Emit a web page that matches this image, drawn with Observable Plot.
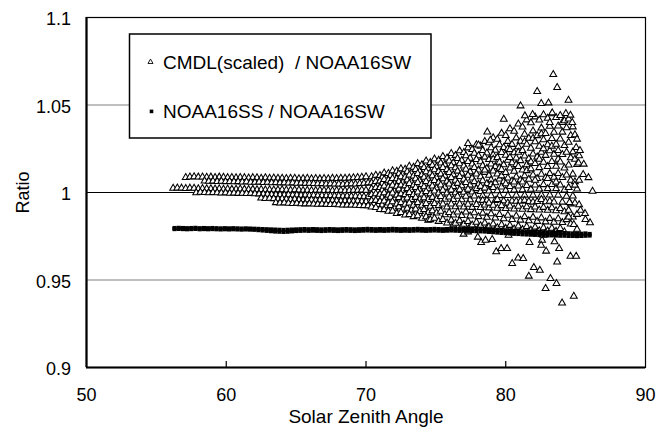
<!DOCTYPE html>
<html><head><meta charset="utf-8">
<script src="https://cdn.jsdelivr.net/npm/d3@7"></script>
<script src="https://cdn.jsdelivr.net/npm/@observablehq/plot@0.6"></script>
<style>
body{margin:0;background:#fff;}
svg text{font-family:"Liberation Sans",Arial,Helvetica,sans-serif;}
g[aria-label="x-axis label"] text{font-size:19px;}
</style></head><body><div id="chart"></div><script>
// ---- axis ticks / labels ----
const xTicks = [50, 60, 70, 80, 90];
const xInnerTicks = [60, 70, 80];
const yTicks = [0.9, 0.95, 1, 1.05, 1.1];
const yTickLabels = ["0.9", "0.95", "1", "1.05", "1.1"];
const gridGrey = [0.95, 1.05];
const gridDark = [1];
const legendLabels = ["CMDL(scaled)  / NOAA16SW", "NOAA16SS / NOAA16SW"];

// ---- CMDL(scaled)/NOAA16SW : left bands (56-70 deg) ----
const leftXa = [56.2,56.5,56.8,57.1,57.4,57.7,58.0,58.3,58.6,58.9,59.2,59.5,59.8,60.1,60.4,60.7,61.0,61.3,61.6,61.9,62.2,62.5,62.8,63.1,63.4,63.7,64.0,64.3,64.6,64.9,65.2,65.5,65.8,66.1,66.4,66.7,67.0,67.3,67.6,67.9,68.2,68.5,68.8,69.1,69.4,69.7,70.0];
const leftXb = [56.35,56.65,56.95,57.25,57.55,57.85,58.15,58.45,58.75,59.05,59.35,59.65,59.95,60.25,60.55,60.85,61.15,61.45,61.75,62.05,62.35,62.65,62.95,63.25,63.55,63.85,64.15,64.45,64.75,65.05,65.35,65.65,65.95,66.25,66.55,66.85,67.15,67.45,67.75,68.05,68.35,68.65,68.95,69.25,69.55,69.85,70.15];
const bandTop = [null,null,null,1.0086,1.0089,1.0090,1.0088,1.0089,1.0087,1.0088,1.0086,1.0088,1.0087,1.0085,1.0086,1.0084,1.0086,1.0085,1.0083,1.0085,1.0084,1.0082,1.0084,1.0082,1.0083,1.0081,1.0082,1.0080,1.0082,1.0081,1.0079,1.0080,1.0081,1.0079,1.0080,1.0078,1.0080,1.0079,1.0081,1.0080,1.0082,1.0081,1.0083,1.0084,1.0086,1.0087,1.0090];
const bandUpper = [null,null,null,null,null,null,null,1.0066,1.0064,1.0065,1.0063,1.0064,1.0062,1.0063,1.0061,1.0062,1.0060,1.0061,1.0059,1.0058,1.0060,1.0057,1.0058,1.0056,1.0057,1.0055,1.0056,1.0054,1.0055,1.0053,1.0054,1.0052,1.0053,1.0051,1.0050,1.0051,1.0049,1.0050,1.0048,1.0049,1.0047,1.0048,1.0050,1.0049,1.0051,1.0053,1.0055];
const bandMid = [1.0024,1.0026,1.0025,1.0023,1.0025,1.0024,1.0022,1.0023,1.0021,1.0022,1.0020,1.0021,1.0019,1.0020,1.0018,1.0019,1.0020,1.0018,1.0017,1.0018,1.0016,1.0017,1.0015,1.0016,1.0014,1.0015,1.0016,1.0014,1.0013,1.0015,1.0014,1.0012,1.0013,1.0011,1.0012,1.0013,1.0011,1.0012,1.0010,1.0011,1.0012,1.0010,1.0011,1.0013,1.0012,1.0014,1.0013];
const bandOne = [null,null,null,null,null,0.9999,1.0001,1.0000,0.9998,1.0000,0.9999,0.9997,0.9998,0.9996,0.9997,0.9995,0.9996,0.9994,0.9995,0.9993,0.9992,0.9991,0.9990,0.9989,0.9988,0.9987,0.9986,0.9987,0.9985,0.9986,0.9984,0.9985,0.9983,0.9984,0.9982,0.9983,0.9981,0.9982,0.9980,0.9981,0.9979,0.9980,0.9978,0.9979,0.9977,0.9976,0.9975];
const bandLow = [null,null,null,null,null,null,null,null,null,null,null,null,null,null,null,null,null,null,null,null,null,0.9968,0.9966,0.9967,0.9965,0.9963,0.9964,0.9962,0.9960,0.9961,0.9959,0.9958,0.9959,0.9957,0.9956,0.9957,0.9955,0.9954,0.9955,0.9953,0.9952,0.9953,0.9951,0.9950,0.9951,0.9949,0.9948];
const bandBottom = [null,null,null,null,null,null,null,null,null,null,null,null,null,null,null,null,null,null,null,null,null,null,null,null,0.9942,0.9940,0.9941,0.9939,0.9937,0.9938,0.9936,0.9935,0.9936,0.9934,0.9933,0.9934,0.9932,0.9931,0.9932,0.9930,0.9929,0.9928,0.9929,0.9927,0.9926,0.9925,0.9924];

// ---- CMDL(scaled)/NOAA16SW : fan (70-85 deg), one list of ratios per angle ----
const fanXa = [70.4,70.7,71.0,71.3,71.6,71.9,72.2,72.5,72.8,73.1,73.4,73.7,74.0,74.3,74.6,74.9,75.2,75.5,75.8,76.1,76.4,76.7,77.0,77.3,77.6,77.9,78.2,78.5,78.8,79.1,79.4,79.7,80.0,80.3,80.6,80.9,81.2,81.5,81.8,82.1,82.4,82.7,83.0,83.3,83.6,83.9,84.2,84.5,84.8,85.1];
const fanXb = [70.55,70.85,71.15,71.45,71.75,72.05,72.35,72.65,72.95,73.25,73.55,73.85,74.15,74.45,74.75,75.05,75.35,75.65,75.95,76.25,76.55,76.85,77.15,77.45,77.75,78.05,78.35,78.65,78.95,79.25,79.55,79.85,80.15,80.45,80.75,81.05,81.35,81.65,81.95,82.25,82.55,82.85,83.15,83.45,83.75,84.05,84.35,84.65,84.95,85.25];
const fanRatios = [
[1.0090,1.0073,1.0055,1.0041,1.0021,1.0007,0.9988,0.9972,0.9953,0.9937,0.9917],
[1.0099,1.0077,1.0063,1.0043,1.0028,1.0009,0.9993,0.9973,0.9955,0.9930,0.9914],
[1.0097,1.0086,1.0065,1.0051,1.0028,1.0013,0.9990,0.9972,0.9949,0.9929,0.9903],
[1.0112,1.0084,1.0074,1.0044,1.0037,1.0005,0.9998,0.9970,0.9951,0.9924,0.9902],
[1.0109,1.0097,1.0070,1.0060,1.0030,1.0019,0.9985,0.9973,0.9940,0.9925,0.9893],
[1.0124,1.0096,1.0080,1.0053,1.0041,1.0008,0.9997,0.9964,0.9947,0.9910,0.9894],
[1.0121,1.0107,1.0079,1.0063,1.0036,1.0020,0.9985,0.9971,0.9934,0.9918,0.9880],
[1.0136,1.0104,1.0090,1.0058,1.0042,1.0011,0.9992,0.9958,0.9942,0.9901,0.9886],
[1.0133,1.0119,1.0087,1.0071,1.0038,1.0022,0.9988,0.9969,0.9933,0.9910,0.9871],
[1.0150,1.0112,1.0100,1.0062,1.0051,1.0014,1.0000,0.9960,0.9940,0.9898,0.9874],
[1.0144,1.0131,1.0094,1.0079,1.0042,1.0029,0.9989,0.9972,0.9927,0.9905,0.9862],
[1.0165,1.0122,1.0109,1.0069,1.0057,1.0018,1.0003,0.9962,0.9942,0.9891,0.9867],
[1.0159,1.0143,1.0101,1.0087,1.0046,1.0033,0.9991,0.9970,0.9927,0.9902,0.9853],
[1.0180,1.0135,1.0119,1.0077,1.0063,1.0021,1.0005,0.9960,0.9937,0.9885,0.9861,0.9842],
[1.0171,1.0155,1.0111,1.0095,1.0053,1.0037,0.9993,0.9972,0.9921,0.9895,0.9845],
[1.0192,1.0147,1.0130,1.0085,1.0069,1.0025,1.0009,0.9961,0.9937,0.9883,0.9853],
[1.0184,1.0168,1.0120,1.0105,1.0058,1.0043,0.9997,0.9977,0.9925,0.9893,0.9835],
[1.0206,1.0158,1.0143,1.0094,1.0078,1.0030,1.0013,0.9961,0.9934,0.9873,0.9846],
[1.0197,1.0180,1.0131,1.0114,1.0064,1.0048,0.9997,0.9974,0.9917,0.9886,0.9826],
[1.0223,1.0170,1.0153,1.0101,1.0085,1.0034,1.0014,0.9960,0.9934,0.9871,0.9842,0.9815],
[1.0212,1.0194,1.0141,1.0122,1.0070,1.0052,0.9999,0.9978,0.9918,0.9889,0.9824],
[1.0238,1.0183,1.0164,1.0110,1.0091,1.0038,1.0016,0.9959,0.9934,0.9868,0.9838,0.9808],
[1.0229,1.0210,1.0151,1.0133,1.0076,1.0057,1.0001,0.9979,0.9917,0.9888,0.9818],
[1.0255,1.0196,1.0177,1.0118,1.0098,1.0042,1.0019,0.9958,0.9933,0.9866,0.9834,0.9805],
[1.0246,1.0224,1.0163,1.0143,1.0083,1.0062,1.0003,0.9980,0.9915,0.9884,0.9814],
[1.0273,1.0210,1.0189,1.0128,1.0106,1.0047,1.0022,0.9957,0.9931,0.9862,0.9830,0.9797],
[1.0265,1.0240,1.0176,1.0153,1.0090,1.0067,1.0006,0.9981,0.9914,0.9882,0.9810,0.9955,1.0035],
[1.0292,1.0226,1.0202,1.0138,1.0115,1.0051,1.0025,0.9955,0.9929,0.9858,0.9826,0.9795,1.0128],
[1.0284,1.0256,1.0188,1.0163,1.0098,1.0072,1.0008,0.9981,0.9912,0.9878,0.9804,1.0045,0.9940],
[1.0313,1.0241,1.0215,1.0148,1.0123,1.0056,1.0028,0.9954,0.9927,0.9854,0.9820,0.9788,1.0190],
[1.0304,1.0273,1.0200,1.0173,1.0106,1.0077,1.0010,0.9982,0.9910,0.9874,0.9799,1.0140,0.9960],
[1.0338,1.0257,1.0229,1.0158,1.0131,1.0061,1.0031,0.9952,0.9925,0.9850,0.9816,0.9785,1.0095],
[1.0326,1.0292,1.0213,1.0184,1.0114,1.0083,1.0012,0.9983,0.9908,0.9870,0.9795,1.0250,1.0050,0.9940],
[1.0364,1.0275,1.0245,1.0170,1.0140,1.0066,1.0034,0.9951,0.9923,0.9846,0.9812,0.9782,1.0200],
[1.0350,1.0312,1.0227,1.0197,1.0121,1.0089,1.0014,0.9984,0.9906,0.9866,0.9791,1.0160,1.0060,0.9950],
[1.0391,1.0293,1.0261,1.0182,1.0149,1.0071,1.0037,0.9950,0.9921,0.9842,0.9808,0.9779,1.0230],
[1.0374,1.0333,1.0240,1.0209,1.0128,1.0095,1.0016,0.9985,0.9904,0.9862,0.9788,1.0290,1.0060,0.9955],
[1.0415,1.0310,1.0276,1.0193,1.0158,1.0076,1.0040,0.9949,0.9919,0.9838,0.9805,0.9776,1.0125],
[1.0398,1.0352,1.0253,1.0220,1.0135,1.0100,1.0018,0.9985,0.9902,0.9858,0.9785,1.0310,1.0175,0.9945],
[1.0432,1.0325,1.0290,1.0203,1.0166,1.0080,1.0043,0.9948,0.9917,0.9835,0.9802,0.9773,1.0070],
[1.0414,1.0368,1.0264,1.0230,1.0142,1.0104,1.0020,0.9986,0.9900,0.9855,0.9782,1.0335,1.0190,0.9960],
[1.0444,1.0337,1.0301,1.0212,1.0173,1.0084,1.0045,0.9947,0.9915,0.9832,0.9799,0.9770,1.0250],
[1.0424,1.0378,1.0273,1.0238,1.0148,1.0108,1.0022,0.9986,0.9898,0.9852,0.9780,1.0400,1.0080,0.9950],
[1.0450,1.0344,1.0309,1.0218,1.0177,1.0087,1.0046,0.9946,0.9913,0.9830,0.9796,0.9768,1.0265],
[1.0428,1.0380,1.0276,1.0240,1.0150,1.0109,1.0022,0.9985,0.9896,0.9850,0.9778,1.0190,1.0060],
[1.0440,1.0345,1.0306,1.0217,1.0174,1.0086,1.0043,0.9945,0.9908,0.9828,0.9794,1.0400],
[1.0410,1.0370,1.0268,1.0230,1.0140,1.0100,1.0014,0.9978,0.9890,0.9845,0.9775],
[1.0420,1.0326,1.0287,1.0198,1.0157,1.0070,1.0028,0.9935,0.9898,0.9820],
[1.0375,1.0330,1.0232,1.0190,1.0105,1.0062,0.9980,0.9940,0.9860],
[1.0305,1.0210,1.0160,1.0070,1.0020,0.9930,0.9875]
];

// ---- CMDL(scaled)/NOAA16SW : isolated points read individually ----
const cmdlScatter = [
[83.40,1.0674],[83.68,1.0600],[82.25,1.0577],[81.06,1.0495],[82.54,1.0509],[83.06,1.0512],[84.49,1.0527],
[79.86,1.0419],[78.68,1.0346],[81.37,1.0438],[81.92,1.0446],[83.33,1.0455],[84.30,1.0451],[84.63,1.0442],
[84.76,1.0400],[85.04,1.0257],[85.21,1.0169],[85.54,1.0103],[84.94,1.0042],[86.21,1.0007],[85.92,1.0085],
[85.58,1.0162],[85.31,1.0240],[85.67,0.9880],[86.03,0.9827],[85.10,0.9790],[84.56,0.9943],[85.35,0.9899],
[85.70,0.9846],[84.87,0.9817],[84.50,0.9860],[77.30,1.0280],[78.05,1.0271],[78.90,1.0299],
[78.24,0.9714],[78.55,0.9727],[79.03,0.9731],[79.32,0.9661],[79.67,0.9680],[80.10,0.9680],[80.46,0.9594],
[80.89,0.9626],[81.25,0.9623],[81.70,0.9714],[82.60,0.9727],[82.53,0.9699],[82.89,0.9665],[83.49,0.9718],
[83.82,0.9680],[83.68,0.9603],[82.01,0.9571],[82.44,0.9556],[81.65,0.9522],[83.20,0.9509],[83.63,0.9480],
[82.85,0.9451],[84.63,0.9636],[85.04,0.9636],[84.03,0.9369],[84.87,0.9407],[76.98,0.9762],[80.20,0.9756],
[82.70,0.9756],[77.30,0.9775],[78.00,0.9745]
];

// ---- NOAA16SS/NOAA16SW ----
const ssX = [56.3,56.6,56.9,57.2,57.5,57.8,58.1,58.4,58.7,59.0,59.3,59.6,59.9,60.2,60.5,60.8,61.1,61.4,61.7,62.0,62.3,62.6,62.9,63.2,63.5,63.8,64.1,64.4,64.7,65.0,65.3,65.6,65.9,66.2,66.5,66.8,67.1,67.4,67.7,68.0,68.3,68.6,68.9,69.2,69.5,69.8,70.1,70.4,70.7,71.0,71.3,71.6,71.9,72.2,72.5,72.8,73.1,73.4,73.7,74.0,74.3,74.6,74.9,75.2,75.5,75.8,76.1,76.4,76.7,77.0,77.3,77.6,77.9,78.2,78.5,78.8,79.1,79.4,79.7,80.0,80.3,80.6,80.9,81.2,81.5,81.8,82.1,82.4,82.7,83.0,83.3,83.6,83.9,84.2,84.5,84.8,85.1,85.4,85.7,86.0];
const ssUpper = [0.9797,0.9798,0.9797,0.9796,0.9797,0.9798,0.9796,0.9797,0.9796,0.9797,
0.9796,0.9795,0.9796,0.9795,0.9796,0.9795,0.9794,0.9795,0.9794,0.9793,
0.9792,0.9791,0.9790,0.9789,0.9788,0.9787,0.9786,0.9787,0.9788,0.9789,
0.9790,0.9791,0.9790,0.9791,0.9790,0.9789,0.9790,0.9791,0.9790,0.9789,
0.9790,0.9791,0.9790,0.9789,0.9790,0.9791,0.9792,0.9791,0.9790,0.9791,
0.9790,0.9791,0.9792,0.9791,0.9790,0.9791,0.9790,0.9791,0.9792,0.9791,
0.9790,0.9791,0.9792,0.9791,0.9790,0.9791,0.9792,0.9791,0.9790,0.9791,
0.9792,0.9793,0.9794,0.9793,0.9792,0.9790,0.9788,0.9786,0.9785,0.9784,
0.9783,0.9781,0.9780,0.9778,0.9777,0.9776,0.9775,0.9774,0.9773,0.9772,
0.9771,0.9770,0.9769,0.9768,0.9767,0.9766,0.9765,0.9764,0.9766,0.9763];
const ssLower = [0.9791,0.9792,0.9791,0.9790,0.9791,0.9792,0.9790,0.9791,0.9790,0.9791,
0.9790,0.9789,0.9790,0.9789,0.9790,0.9789,0.9788,0.9789,0.9788,0.9787,
0.9785,0.9783,0.9781,0.9779,0.9777,0.9776,0.9775,0.9776,0.9778,0.9780,
0.9781,0.9782,0.9781,0.9782,0.9781,0.9780,0.9781,0.9782,0.9781,0.9780,
0.9781,0.9782,0.9781,0.9780,0.9781,0.9782,0.9783,0.9782,0.9781,0.9782,
0.9781,0.9782,0.9783,0.9782,0.9781,0.9782,0.9781,0.9782,0.9783,0.9782,
0.9781,0.9782,0.9783,0.9782,0.9781,0.9782,0.9783,0.9782,0.9781,0.9782,
0.9781,0.9780,0.9779,0.9778,0.9777,0.9775,0.9773,0.9771,0.9769,0.9768,
0.9766,0.9764,0.9763,0.9761,0.9760,0.9759,0.9758,0.9757,0.9756,0.9755,
0.9755,0.9754,0.9753,0.9753,0.9752,0.9752,0.9751,0.9752,0.9753,0.9754];

// ---- build tables ----
const cmdl = [];
[[leftXa, bandMid], [leftXa, bandTop], [leftXb, bandUpper], [leftXb, bandOne], [leftXa, bandLow], [leftXb, bandBottom]]
  .forEach(([xs, ys]) => xs.forEach((x, i) => { if (ys[i] != null) cmdl.push({x, y: ys[i]}); }));
fanRatios.forEach((ys, j) => ys.forEach((y, k) => cmdl.push({x: (k % 2 ? fanXb : fanXa)[j], y})));
cmdlScatter.forEach(([x, y]) => cmdl.push({x, y}));
const ss = [];
ssX.forEach((x, i) => { ss.push({x, y: ssUpper[i]}); ss.push({x, y: ssLower[i]}); });

const plot = Plot.plot({
  width: 666, height: 431,
  marginLeft: 86, marginRight: 21, marginTop: 17, marginBottom: 64,
  style: {fontFamily: '"Liberation Sans", Arial, sans-serif', fontSize: "18px", background: "#fff", color: "#000", overflow: "visible"},
  x: {domain: [50, 90]},
  y: {domain: [0.9, 1.1]},
  marks: [
    Plot.ruleY(gridGrey, {stroke: "#808080", strokeWidth: 1.2}),
    Plot.ruleY(gridDark, {stroke: "#000", strokeWidth: 1}),
    Plot.dot(cmdl, {x: "x", y: "y", symbol: "triangle", r: 2.55, stroke: "#000", fill: "#fff", strokeWidth: 1.05}),
    Plot.dot(ss, {x: "x", y: "y", symbol: "square", r: 2.35, fill: "#000", stroke: "none"}),
    Plot.frame({stroke: "#000", strokeWidth: 1.2}),
    Plot.ruleX([50], {stroke: "#000", strokeWidth: 2.2}),
    Plot.ruleY([0.9], {stroke: "#000", strokeWidth: 2.2}),
    Plot.ruleX(xInnerTicks, {stroke: "#000", strokeWidth: 1.2, insetTop: 344}),
    Plot.axisX({ticks: xTicks, tickSize: 0, tickPadding: 21, fontSize: 18, label: "Solar Zenith Angle", labelAnchor: "center", labelOffset: 55, labelArrow: "none"}),
    Plot.axisY({ticks: yTicks, tickFormat: d => yTickLabels[yTicks.indexOf(d)], tickSize: 0, tickPadding: 15.5, dy: 2, fontSize: 18, label: "Ratio", labelAnchor: "center", labelOffset: 70, labelArrow: "none"})
  ]
});
document.getElementById("chart").appendChild(plot);

// ---- legend box ----
const svg = d3.select(plot);
const lg = svg.append("g").attr("aria-label", "legend");
lg.append("rect").attr("x", 129.5).attr("y", 34).attr("width", 301.5).attr("height", 104)
  .attr("fill", "#fff").attr("stroke", "#000").attr("stroke-width", 1.5);
lg.append("path").attr("d", d3.symbol(d3.symbolTriangle, 11)()).attr("transform", "translate(150.5,62)")
  .attr("fill", "#fff").attr("stroke", "#000").attr("stroke-width", 0.9);
lg.append("rect").attr("x", 149.7).attr("y", 109.6).attr("width", 3.6).attr("height", 3.6).attr("fill", "#000");
legendLabels.forEach((t, i) => {
  lg.append("text").attr("x", 163).attr("y", i === 0 ? 68.5 : 118.3)
    .attr("text-anchor", "start").attr("font-size", 19).attr("fill", "#000")
    .style("white-space", "pre").text(t);
});
</script></body></html>
